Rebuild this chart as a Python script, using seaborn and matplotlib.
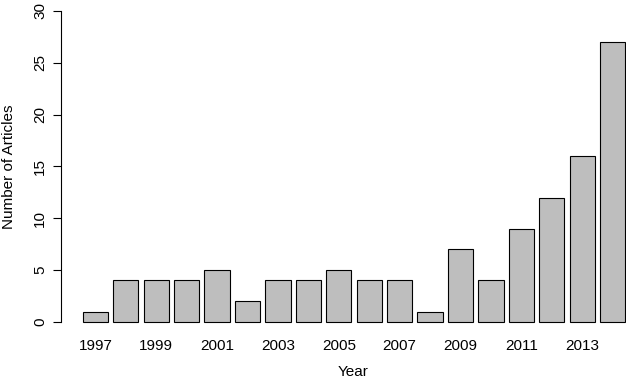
import numpy as np
import pandas as pd
import seaborn as sns
import matplotlib
matplotlib.use("Agg")
import matplotlib.pyplot as plt

years = [1997, 1998, 1999, 2000, 2001, 2002, 2003, 2004, 2005,
         2006, 2007, 2008, 2009, 2010, 2011, 2012, 2013, 2014]
articles = [1, 4, 4, 4, 5, 2, 4, 4, 5, 4, 4, 1, 7, 4, 9, 12, 16, 27]
yticks = [0, 5, 10, 15, 20, 25, 30]

sns.set_style("white")
plt.rcParams['font.family'] = ['Liberation Sans', 'DejaVu Sans']
plt.rcParams['text.color'] = 'black'
plt.rcParams['xtick.color'] = 'black'
plt.rcParams['ytick.color'] = 'black'
plt.rcParams['axes.labelcolor'] = 'black'

df = pd.DataFrame({"Year": [str(y) for y in years], "Articles": articles})

fig = plt.figure(figsize=(6.26, 3.8), dpi=100)
# plot region like R's barplot, right edge runs past the image
ax = fig.add_axes([61 / 626, 45.6 / 380, 586 / 626, 336 / 380])

sns.barplot(data=df, x="Year", y="Articles", color="#BEBEBE", saturation=1,
            width=1 / 1.2, edgecolor="black", linewidth=0.8, ax=ax)

ax.set_xlim(-1.13, 18.13)
ax.set_ylim(-1.2, 31.2)

for s in ["top", "right", "bottom"]:
    ax.spines[s].set_visible(False)
ax.spines["left"].set_bounds(0, 30)
ax.spines["left"].set_color("black")
ax.spines["left"].set_linewidth(0.8)

ax.set_yticks(yticks)
ax.set_yticklabels([str(t) for t in yticks], rotation=90, va="center", fontsize=11)
ax.tick_params(axis="y", left=True, length=6, width=0.8, color="black", pad=4)

ax.set_xticks(range(0, len(years), 2))
ax.set_xticklabels([str(y) for y in years[::2]], fontsize=11)
ax.tick_params(axis="x", bottom=False, length=0, pad=3)

ax.set_xlabel("Year", fontsize=11)
ax.set_ylabel("Number of Articles", fontsize=11)
ax.xaxis.set_label_coords((353 - 61) / 586, -0.092)
ax.yaxis.set_label_coords(-0.077, 0.5)

fig.savefig("out.png", dpi=100)
